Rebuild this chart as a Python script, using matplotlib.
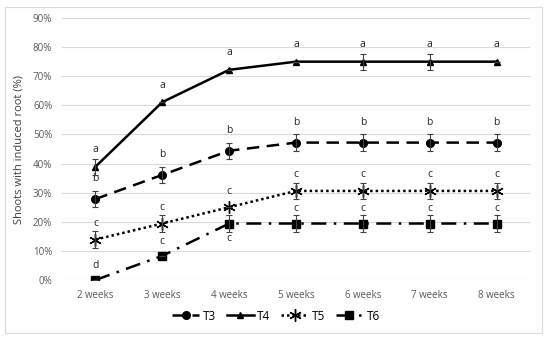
import numpy as np
import matplotlib
matplotlib.use("Agg")
import matplotlib.pyplot as plt
from matplotlib.patches import Rectangle

# ── Data ──────────────────────────────────────────────────────────────────────
weeks = ["2 weeks", "3 weeks", "4 weeks", "5 weeks", "6 weeks", "7 weeks", "8 weeks"]

t3 = [27.8, 36.1, 44.4, 47.2, 47.2, 47.2, 47.2]
t4 = [38.9, 61.1, 72.2, 75.0, 75.0, 75.0, 75.0]
t5 = [13.9, 19.4, 25.0, 30.6, 30.6, 30.6, 30.6]
t6 = [0.0, 8.3, 19.4, 19.4, 19.4, 19.4, 19.4]

t3_err = [2.8, 2.8, 2.8, 2.8, 2.8, 2.8, 2.8]
t4_err = [2.8, 0.0, 0.0, 0.0, 2.8, 2.8, 0.0]
t5_err = [2.8, 2.8, 0.0, 2.8, 2.8, 2.8, 2.8]
t6_err = [0.0, 0.0, 2.8, 2.8, 2.8, 2.8, 2.8]

t3_lbl = ["b"] * 7
t4_lbl = ["a"] * 7
t5_lbl = ["c"] * 7
t6_lbl = ["d", "c", "c", "c", "c", "c", "c"]
t6_below = [False, False, True, False, False, False, False]

# ── Figure ────────────────────────────────────────────────────────────────────
plt.rcParams["font.family"] = ["Open Sans", "DejaVu Sans"]
fig = plt.figure(figsize=(5.5, 3.41), dpi=100)
fig.patches.append(Rectangle((5 / 550, 1 - 333 / 341), 537 / 550, 326 / 341,
                             transform=fig.transFigure, fill=False,
                             edgecolor="#d9d9d9", linewidth=0.8))
ax = fig.add_axes([62 / 550, 1 - 280 / 341, 468 / 550, 262 / 341])

x = np.arange(len(weeks))
series = [
    ("T3", t3, t3_err, "o", (0, (5, 3)), 5.5),
    ("T4", t4, t4_err, "^", "-", 5),
    ("T5", t5, t5_err, (6, 2, 0), (0, (1, 1.2)), 9),
    ("T6", t6, t6_err, "s", (0, (6, 3, 1, 3)), 5.5),
]
handles = []
for name, y, err, mk, ls, ms in series:
    y = np.array(y) / 100
    e = np.array(err) / 100
    h, = ax.plot(x, y, color="black", linestyle=ls, linewidth=1.8,
                 marker=mk, markersize=ms, markeredgewidth=1.0,
                 label=name, zorder=3)
    ax.errorbar(x, y, yerr=e, fmt="none", ecolor="#404040", elinewidth=0.8,
                capsize=2, capthick=0.8, zorder=4)
    handles.append(h)

# significance letters (centre offset above the point, in %)
for vals, lbls, off in [(t4, t4_lbl, 5.8), (t3, t3_lbl, 7.0), (t5, t5_lbl, 5.5)]:
    for i in range(len(weeks)):
        ax.text(x[i], (vals[i] + off) / 100, lbls[i], ha="center", va="center",
                fontsize=7.5, color="#262626")
for i in range(len(weeks)):
    off = -5.0 if t6_below[i] else 5.0
    ax.text(x[i], (t6[i] + off) / 100, t6_lbl[i], ha="center", va="center",
            fontsize=7.5, color="#262626")

ax.set_xlim(-0.5, 6.5)
ax.set_ylim(0, 0.9)
ax.set_yticks(np.arange(0, 0.91, 0.1))
ax.set_yticklabels([f"{int(round(v * 100))}%" for v in np.arange(0, 0.91, 0.1)])
ax.set_xticks(x)
ax.set_xticklabels(weeks)
ax.tick_params(axis="both", length=0, labelsize=7, colors="#595959", pad=7)
ax.grid(axis="y", color="#d9d9d9", linewidth=0.8)
ax.set_axisbelow(True)
for s in ax.spines.values():
    s.set_visible(False)
ax.set_ylabel("Shoots with induced root (%)", fontsize=8, color="#404040", labelpad=6)

fig.legend(handles=handles, loc="center", bbox_to_anchor=(276 / 550, 1 - 316 / 341),
           ncol=4, frameon=False, fontsize=8.5, handlelength=2.3, columnspacing=0.9,
           handletextpad=0.3, markerscale=1.0)

fig.savefig("out.png", dpi=100)
